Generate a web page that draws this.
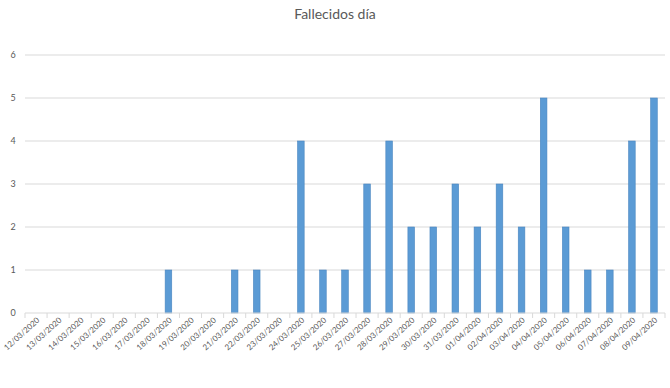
<!DOCTYPE html>
<html>
<head>
<meta charset="utf-8">
<script src="https://cdn.jsdelivr.net/npm/d3@7"></script>
<style>
  body { margin: 0; background: #fff; }
  text { font-family: Lato, 'Open Sans', sans-serif; }
</style>
</head>
<body>
<div id="chart"></div>
<script>
const dates = [
  '12/03/2020', '13/03/2020', '14/03/2020', '15/03/2020', '16/03/2020',
  '17/03/2020', '18/03/2020', '19/03/2020', '20/03/2020', '21/03/2020',
  '22/03/2020', '23/03/2020', '24/03/2020', '25/03/2020', '26/03/2020',
  '27/03/2020', '28/03/2020', '29/03/2020', '30/03/2020', '31/03/2020',
  '01/04/2020', '02/04/2020', '03/04/2020', '04/04/2020', '05/04/2020',
  '06/04/2020', '07/04/2020', '08/04/2020', '09/04/2020'
]
const deaths = [
  0, 0, 0, 0, 0, 0, 1, 0, 0, 1,
  1, 0, 4, 1, 1, 3, 4, 2, 2, 3,
  2, 3, 2, 5, 2, 1, 1, 4, 5
]
const yTicks = [0, 1, 2, 3, 4, 5, 6]

const margin = { top: 55, left: 25, right: 5, bottom: 75 }
const width = 670 - margin.left - margin.right
const height = 388 - margin.top - margin.bottom

const root = d3
  .select('#chart')
  .append('svg')
  .attr('width', 670)
  .attr('height', 388)

root
  .append('text')
  .text('Fallecidos día')
  .attr('x', 335)
  .attr('y', 19)
  .attr('text-anchor', 'middle')
  .attr('fill', '#595959')
  .style('font-size', '14px')

const svg = root
  .append('g')
  .attr('transform', 'translate(' + margin.left + ',' + margin.top + ')')

const xPositionScale = d3
  .scaleBand()
  .domain(dates)
  .range([0, width])
  .paddingInner(0.7)
  .paddingOuter(0.35)

const yPositionScale = d3
  .scaleLinear()
  .domain([0, 6])
  .range([height, 0])

// gridlines
svg
  .selectAll('.grid')
  .data(yTicks.filter(d => d > 0))
  .enter()
  .append('line')
  .attr('x1', 0)
  .attr('x2', width)
  .attr('y1', d => yPositionScale(d))
  .attr('y2', d => yPositionScale(d))
  .attr('stroke', '#d9d9d9')

// y labels
svg
  .selectAll('.ylab')
  .data(yTicks)
  .enter()
  .append('text')
  .text(d => d)
  .attr('x', -12)
  .attr('y', d => yPositionScale(d))
  .attr('dy', '0.35em')
  .attr('text-anchor', 'middle')
  .attr('fill', '#595959')
  .style('font-size', '9px')

// bars
svg
  .selectAll('.bar')
  .data(dates)
  .enter()
  .append('rect')
  .attr('x', d => xPositionScale(d))
  .attr('width', xPositionScale.bandwidth())
  .attr('y', (d, i) => yPositionScale(deaths[i]))
  .attr('height', (d, i) => height - yPositionScale(deaths[i]))
  .attr('fill', '#5b9bd5')
  .attr('stroke', '#4a86c0')
  .attr('stroke-width', 0.6)

// x axis line + ticks at category boundaries
const step = xPositionScale.step()
const x0 = xPositionScale(dates[0]) - xPositionScale.paddingOuter() * step
svg
  .append('line')
  .attr('x1', 0)
  .attr('x2', width)
  .attr('y1', height)
  .attr('y2', height)
  .attr('stroke', '#d9d9d9')

svg
  .selectAll('.tick')
  .data(d3.range(dates.length + 1))
  .enter()
  .append('line')
  .attr('x1', i => x0 + i * step)
  .attr('x2', i => x0 + i * step)
  .attr('y1', height)
  .attr('y2', height + 5)
  .attr('stroke', '#d9d9d9')

// x labels
svg
  .selectAll('.xlab')
  .data(dates)
  .enter()
  .append('text')
  .text(d => d)
  .attr('transform', d => {
    const cx = xPositionScale(d) + xPositionScale.bandwidth() / 2 + 4
    return 'translate(' + cx + ',' + (height + 8) + ') rotate(-42)'
  })
  .attr('text-anchor', 'end')
  .attr('fill', '#595959')
  .style('font-size', '8px')
</script>
</body>
</html>
